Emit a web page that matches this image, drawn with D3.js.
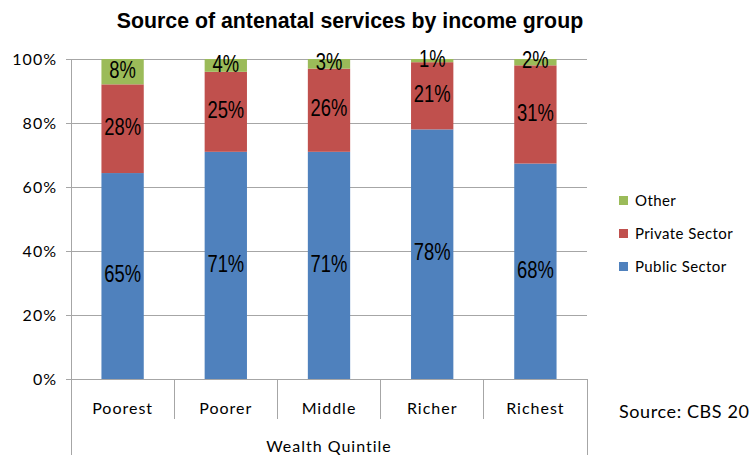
<!DOCTYPE html>
<html>
<head>
<meta charset="utf-8">
<script src="https://cdn.jsdelivr.net/npm/d3@7"></script>
<style>
  html, body { margin: 0; padding: 0; background: #fff; }
  svg { display: block; }
</style>
</head>
<body>
<svg id="chart" width="754" height="455"></svg>
<script>
// Wealth quintiles and share of antenatal care by source (%)
const quintiles = ["Poorest", "Poorer", "Middle", "Richer", "Richest"];
const publicSector = [65, 71, 71, 78, 68];
const privateSector = [28, 25, 26, 21, 31];
const otherSource = [8, 4, 3, 1, 2];
const seriesNames = ["Public Sector", "Private Sector", "Other"];
const seriesColors = ["#4F81BD", "#C0504D", "#9BBB59"];
const yTicks = [0, 0.2, 0.4, 0.6, 0.8, 1.0];

const rows = quintiles.map((q, i) => ({
  quintile: q,
  "Public Sector": publicSector[i],
  "Private Sector": privateSector[i],
  "Other": otherSource[i]
}));

const svg = d3.select("#chart");
const plotLeft = 71, plotRight = 587, plotTop = 59, plotBottom = 379;
const uiFont = "Lato, 'Open Sans', sans-serif";

const x = d3.scaleBand().domain(quintiles).range([plotLeft, plotRight]).paddingInner(0.59).paddingOuter(0.295);
const band = d3.scaleBand().domain(quintiles).range([plotLeft, plotRight]);
const y = d3.scaleLinear().domain([0, 1]).range([plotBottom, plotTop]);

const stack = d3.stack().keys(seriesNames).offset(d3.stackOffsetExpand);
const layers = stack(rows);

// Title
svg.append("text")
  .attr("x", 350).attr("y", 28)
  .attr("text-anchor", "middle")
  .style("font-family", "Liberation Sans, Arial, sans-serif")
  .style("font-weight", "bold")
  .style("font-size", "21.3px")
  .text("Source of antenatal services by income group");

// Gridlines
svg.append("g").selectAll("line").data(yTicks.filter(t => t > 0)).join("line")
  .attr("x1", plotLeft).attr("x2", plotRight)
  .attr("y1", d => y(d)).attr("y2", d => y(d))
  .attr("stroke", "#a6a6a6").attr("stroke-width", 1).attr("shape-rendering", "crispEdges");

// Y axis
const yAxis = d3.axisLeft(y).tickValues(yTicks).tickFormat(d3.format(".0%")).tickSize(5).tickPadding(9);
const gy = svg.append("g").attr("transform", `translate(${plotLeft},0)`).call(yAxis);
gy.select(".domain").attr("stroke", "#a6a6a6").attr("d", `M0,${plotTop}V${plotBottom + 1}`);
gy.selectAll(".tick line").attr("stroke", "#a6a6a6");
gy.selectAll("text")
  .style("font-family", uiFont)
  .style("font-size", "16px")
  .style("letter-spacing", "1px")
  .attr("fill", "#000");
gy.attr("shape-rendering", "crispEdges");

// Bars
const layerG = svg.append("g").selectAll("g").data(layers).join("g")
  .attr("fill", (d, i) => seriesColors[i]);
layerG.selectAll("rect").data(d => d).join("rect")
  .attr("x", d => x(d.data.quintile))
  .attr("width", x.bandwidth())
  .attr("y", d => y(d[1]))
  .attr("height", d => y(d[0]) - y(d[1]));

// Data labels (condensed horizontally)
const labelG = svg.append("g");
layers.forEach((layer) => {
  layer.forEach(d => {
    const v = d.data[layer.key];
    const cx = x(d.data.quintile) + x.bandwidth() / 2;
    const cy = (y(d[0]) + y(d[1])) / 2 - 2;
    labelG.append("text")
      .attr("transform", `translate(${cx},${cy}) scale(0.8,1)`)
      .attr("dy", "0.36em")
      .attr("text-anchor", "middle")
      .style("font-family", "'Liberation Sans', Arial, sans-serif")
      .style("font-size", "23px")
      .attr("fill", "#000")
      .text(v + "%");
  });
});

// X axis baseline and category dividers
const axisG = svg.append("g").attr("shape-rendering", "crispEdges").attr("stroke", "#a6a6a6");
axisG.append("line").attr("x1", plotLeft - 5).attr("x2", plotRight).attr("y1", plotBottom).attr("y2", plotBottom);
const edges = quintiles.map(q => band(q)).concat([plotRight]);
axisG.selectAll("line.div").data(edges).join("line")
  .attr("class", "div")
  .attr("x1", d => d).attr("x2", d => d)
  .attr("y1", plotBottom)
  .attr("y2", (d, i) => (i === 0 || i === edges.length - 1) ? 455 : 419);

// Category labels
svg.append("g").selectAll("text").data(quintiles).join("text")
  .attr("x", d => band(d) + band.bandwidth() / 2)
  .attr("y", 414)
  .attr("text-anchor", "middle")
  .style("font-family", uiFont)
  .style("font-size", "16px")
  .style("letter-spacing", "1px")
  .text(d => d);

// Axis title
svg.append("text")
  .attr("x", (plotLeft + plotRight) / 2).attr("y", 452)
  .attr("text-anchor", "middle")
  .style("font-family", uiFont)
  .style("font-size", "16px")
  .style("letter-spacing", "1px")
  .text("Wealth Quintile");

// Legend (top entry is the last stacked series)
const legendItems = seriesNames.slice().reverse();
const legendColors = seriesColors.slice().reverse();
const lg = svg.append("g").selectAll("g").data(legendItems).join("g")
  .attr("transform", (d, i) => `translate(619, ${201 + i * 33})`);
lg.append("rect").attr("x", 0).attr("y", -5).attr("width", 9).attr("height", 9)
  .attr("fill", (d, i) => legendColors[i]);
lg.append("text").attr("x", 16).attr("y", 0).attr("dy", "0.36em")
  .style("font-family", uiFont)
  .style("font-size", "15px")
  .style("letter-spacing", "0.4px")
  .text(d => d);

// Source note
svg.append("text")
  .attr("x", 619).attr("y", 418)
  .style("font-family", uiFont)
  .style("font-size", "18px")
  .style("letter-spacing", "0.6px")
  .text("Source: CBS 20");
</script>
</body>
</html>
